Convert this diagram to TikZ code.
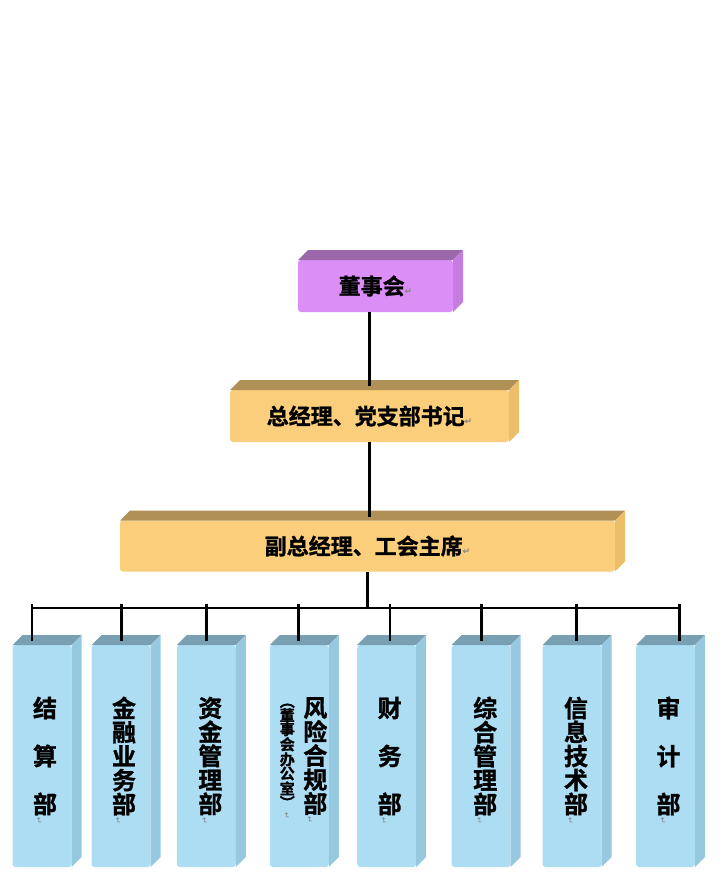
\documentclass[tikz,border=0pt]{standalone}
\usepackage{fontspec}
\usepackage{graphicx}
\newfontfamily\cjk{Noto Sans CJK SC}[BoldFont={Noto Sans CJK SC Bold}, BoldFeatures={FakeBold=1.2}]
\newfontfamily\symb{DejaVu Sans}
\usetikzlibrary{calc}

\definecolor{purpleF}{RGB}{218,142,246}
\definecolor{purpleT}{RGB}{155,104,172}
\definecolor{purpleS}{RGB}{196,124,222}
\definecolor{goldF}{RGB}{250,206,122}
\definecolor{goldT}{RGB}{176,144,86}
\definecolor{goldS}{RGB}{236,190,106}
\definecolor{blueF}{RGB}{173,221,243}
\definecolor{blueT}{RGB}{121,159,179}
\definecolor{blueS}{RGB}{150,200,224}
\definecolor{markgray}{RGB}{130,130,130}

% top and right faces of a box, from the front node
\newcommand{\boxsides}[3]{%
  \fill[#2] (#1.north west) -- ++(10,-10) -- ($(#1.north east)+(10,-10)$) -- (#1.north east) -- cycle;
  \fill[#3] (#1.north east) -- ++(10,-10) -- ($(#1.south east)+(10,-10)$) -- (#1.south east) -- cycle;
}
\newcommand{\retmark}{{\symb\fontsize{9}{9}\selectfont\color{markgray}↵}}

\begin{document}
\begin{tikzpicture}[x=1pt,y=-1pt,
  face/.style={inner sep=0pt, outer sep=0pt, rounded corners=3pt},
  org/.style={face, font=\cjk\bfseries\fontsize{22}{22}\selectfont},
  dept/.style={face, fill=blueF, minimum width=59, minimum height=222},
  vtext/.style={align=center, inner sep=0pt, font=\cjk\bfseries\fontsize{24}{#1}\selectfont},
  vtext/.default=24,
  smalltext/.style={align=center, inner sep=0pt, font=\cjk\bfseries\fontsize{15}{14}\selectfont},
  vmark/.style={inner sep=0pt, rotate=-90, font=\symb\fontsize{8}{8}\selectfont, text=markgray},
  link/.style={line width=2.6pt, black}]
  \useasboundingbox (0,0) rectangle (728,886);

  % Figure: board and management
  \node[org, fill=purpleF, minimum width=155, minimum height=52] (dsh) at (375.5,286) {董事会\retmark};
  \boxsides{dsh}{purpleT}{purpleS}
  \node[org, fill=goldF, minimum width=279, minimum height=52] (zjl) at (369.5,416) {总经理、党支部书记\retmark};
  \boxsides{zjl}{goldT}{goldS}
  \node[org, fill=goldF, minimum width=495, minimum height=51] (fzjl) at (367.5,546) {副总经理、工会主席\retmark};
  \boxsides{fzjl}{goldT}{goldS}

  % departments
  \foreach \n/\x in {b1/42, b2/121, b3/206.3, b4/299.3, b5/386.7, b6/481.2, b7/572, b8/665.5} {
    \node[dept] (\n) at (\x,756) {};
    \boxsides{\n}{blueT}{blueS}
  }
  \node[vtext=48] (t1) at ($(b1.center)+(3,0)$) {结\\算\\部};
  \node[vtext] (t2) at ($(b2.center)+(3,0)$) {金\\融\\业\\务\\部};
  \node[vtext] (t3) at ($(b3.center)+(4,0)$) {资\\金\\管\\理\\部};
  \node[vtext] (t4) at ($(b4.center)+(16,0)$) {风\\险\\合\\规\\部};
  \node[smalltext] (t4s) at ($(b4.center)+(-12,0)$) {︵\\董\\事\\会\\办\\公\\室\\︶};
  \node[vtext=48] (t5) at ($(b5.center)+(3,0)$) {财\\务\\部};
  \node[vtext] (t6) at ($(b6.center)+(4,0)$) {综\\合\\管\\理\\部};
  \node[vtext] (t7) at ($(b7.center)+(4,0)$) {信\\息\\技\\术\\部};
  \node[vtext=48] (t8) at ($(b8.center)+(3,0)$) {审\\计\\部};
  \foreach \t in {t1,t2,t3,t4,t5,t6,t7,t8}
    \node[vmark] at ($(\t.south)+(-6,5)$) {↵};
  \node[vmark] at ($(t4s.south)+(-1,7)$) {↵};

  % connectors
  \draw[link] (zjl.north |- dsh.south) -- ($(zjl.north)+(0,-4)$);
  \draw[link] (zjl.south) -- ($(fzjl.north -| zjl.south)+(0,-4)$);
  \coordinate (busL) at (32,608);
  \coordinate (busR) at (680,608);
  \draw[link] (fzjl.south) -- (fzjl.south |- busL);
  \draw[link] (busL) -- (busR);
  \foreach \n/\x in {b1/32, b2/121.5, b3/206.5, b4/298.3, b5/390, b6/481.7, b7/576.7, b8/679.3}
    \draw[link] (\x,604) -- ($(\n.north -| \x,0)+(0,-4)$);
\end{tikzpicture}
\end{document}
